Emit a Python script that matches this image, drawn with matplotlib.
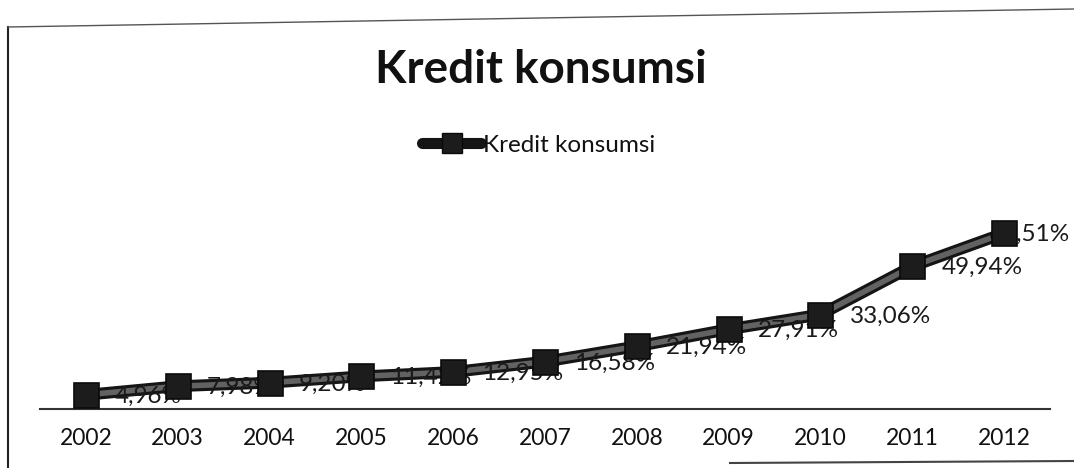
import matplotlib
matplotlib.use("Agg")
import matplotlib.pyplot as plt
from matplotlib.lines import Line2D

years = ["2002", "2003", "2004", "2005", "2006", "2007", "2008", "2009", "2010", "2011", "2012"]
values = [4.96, 7.98, 9.20, 11.42, 12.95, 16.58, 21.94, 27.91, 33.06, 49.94, 61.51]
labels = ["4,96%", "7,98%", "9,20%", "11,42%", "12,95%", "16,58%", "21,94%", "27,91%", "33,06%", "49,94%", "61,51%"]
series_name = "Kredit konsumsi"
title = "Kredit konsumsi"

plt.rcParams['font.family'] = ['Lato', 'DejaVu Sans']

W, H, DPI = 1074, 468, 100
fig = plt.figure(figsize=(W / DPI, H / DPI), dpi=DPI)
fig.patch.set_facecolor("white")

def fx(px):
    return px / W

def fy(py):
    return 1 - py / H

ax = fig.add_axes([fx(40), fy(409), fx(1050) - fx(40), fy(209) - fy(409)])
x = list(range(len(years)))

# thick 3D-like line: dark outline + grey core
ax.plot(x, values, color="#151515", lw=8.5, solid_capstyle="round", zorder=2)
ax.plot(x, values, color="#626262", lw=4, solid_capstyle="round", zorder=3)
ax.plot(x, values, ls="none", marker="s", markersize=18, markerfacecolor="#1c1c1c",
        markeredgecolor="#0a0a0a", markeredgewidth=1.2, zorder=6)

for i, (xi, v, lab) in enumerate(zip(x, values, labels)):
    dx = 21 if i < len(x) - 1 else -11
    ax.annotate(lab, (xi, v), xytext=(dx, -1), textcoords="offset points",
                ha="left", va="center", fontsize=17.5, color="#1a1a1a", zorder=5)

ax.set_xlim(-0.5, len(years) - 0.5)
ax.set_ylim(0, 70)
ax.set_xticks(x)
ax.set_xticklabels(years, fontsize=16.5, color="#111111")
ax.set_yticks([])
ax.tick_params(axis="x", length=0, pad=14)
for s in ["top", "right", "left"]:
    ax.spines[s].set_visible(False)
ax.spines["bottom"].set_color("#333333")
ax.spines["bottom"].set_linewidth(1.5)
ax.set_facecolor("none")

# title
fig.text(fx(541), fy(70), title, ha="center", va="center", fontsize=33,
         fontweight="bold", color="#111111")

# legend
handle_line = Line2D([], [], color="#151515", lw=8, solid_capstyle="round",
                     marker="s", markersize=14, markerfacecolor="#1c1c1c", markeredgecolor="#0a0a0a")
leg = fig.legend([handle_line], [series_name], loc="center", bbox_to_anchor=(fx(539), fy(145)),
                 frameon=False, fontsize=17.5, handlelength=2.4, handletextpad=0.1)
for t in leg.get_texts():
    t.set_color("#111111")

# chart border (scanned frame)
fig.add_artist(Line2D([fx(8), fx(8)], [fy(27), fy(468)], color="#222222", lw=1.5))
fig.add_artist(Line2D([fx(8), fx(1074)], [fy(27), fy(9)], color="#555555", lw=1.0))
fig.add_artist(Line2D([fx(730), fx(1074)], [fy(463), fy(461)], color="#444444", lw=1.5))

fig.savefig("out.png", dpi=DPI, facecolor="white")
